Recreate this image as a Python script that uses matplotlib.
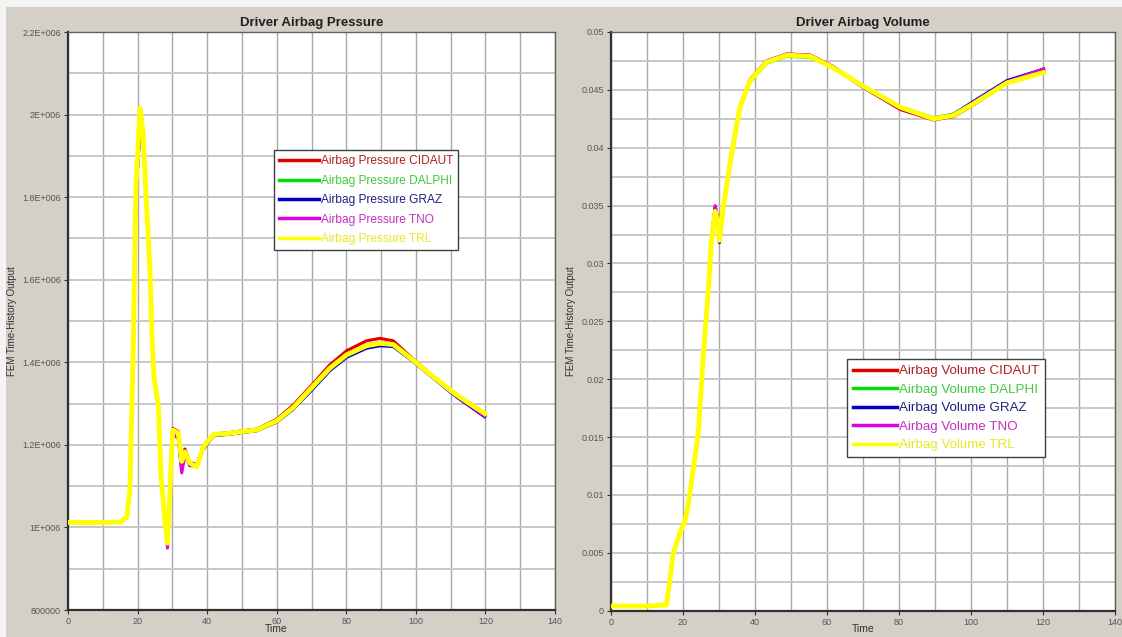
import matplotlib
matplotlib.use("Agg")
import matplotlib.pyplot as plt
from matplotlib.ticker import FixedLocator, MultipleLocator
from matplotlib.patches import Rectangle

plt.rcParams['font.family'] = ['Liberation Sans', 'DejaVu Sans']

# ---------------- data ----------------
labs = ["CIDAUT", "DALPHI", "GRAZ", "TNO", "TRL"]
line_colors = ["#e00000", "#00e000", "#0000c8", "#e000e0", "#ffff00"]
text_colors = ["#b02020", "#40c840", "#202080", "#c030c0", "#e8e820"]

# Driver airbag pressure (Pa) vs time (ms)
t_p = [0, 5, 10, 15, 16.9, 17.8, 18.8, 19.5, 20.7, 21.6, 22.6, 23.6, 24.2, 24.7,
       26.0, 26.7, 27.9, 28.6, 29.3, 30.1, 31.7, 32.7, 33.6, 35.0, 37.0, 38.9,
       41.8, 46.6, 50, 54.2, 60, 64.7, 70, 75.3, 80.1, 85.8, 89.7, 93.5, 99.2,
       105, 111.7, 119.8]
p_cidaut = [1.012e6, 1.012e6, 1.012e6, 1.013e6, 1.024e6, 1.085e6, 1.440e6, 1.800e6,
            1.970e6, 1.950e6, 1.780e6, 1.620e6, 1.460e6, 1.370e6, 1.295e6, 1.135e6,
            1.010e6, 0.958e6, 1.085e6, 1.240e6, 1.232e6, 1.145e6, 1.190e6, 1.158e6,
            1.152e6, 1.198e6, 1.226e6, 1.230e6, 1.234e6, 1.238e6, 1.262e6, 1.296e6,
            1.344e6, 1.394e6, 1.428e6, 1.452e6, 1.458e6, 1.452e6, 1.408e6, 1.366e6,
            1.320e6, 1.274e6]
p_dalphi = [1.012e6, 1.012e6, 1.012e6, 1.013e6, 1.024e6, 1.088e6, 1.445e6, 1.805e6,
            1.965e6, 1.948e6, 1.775e6, 1.615e6, 1.455e6, 1.365e6, 1.290e6, 1.130e6,
            1.012e6, 0.962e6, 1.090e6, 1.232e6, 1.226e6, 1.158e6, 1.180e6, 1.155e6,
            1.150e6, 1.192e6, 1.222e6, 1.226e6, 1.230e6, 1.234e6, 1.256e6, 1.288e6,
            1.334e6, 1.382e6, 1.414e6, 1.436e6, 1.442e6, 1.440e6, 1.404e6, 1.364e6,
            1.320e6, 1.272e6]
p_graz = [1.012e6, 1.012e6, 1.012e6, 1.013e6, 1.024e6, 1.088e6, 1.448e6, 1.808e6,
          1.968e6, 1.950e6, 1.776e6, 1.614e6, 1.452e6, 1.362e6, 1.288e6, 1.128e6,
          1.008e6, 0.958e6, 1.086e6, 1.230e6, 1.222e6, 1.140e6, 1.178e6, 1.150e6,
          1.148e6, 1.190e6, 1.222e6, 1.226e6, 1.230e6, 1.234e6, 1.255e6, 1.286e6,
          1.332e6, 1.380e6, 1.412e6, 1.434e6, 1.440e6, 1.438e6, 1.402e6, 1.362e6,
          1.316e6, 1.268e6]
p_tno = [1.012e6, 1.012e6, 1.012e6, 1.013e6, 1.024e6, 1.088e6, 1.446e6, 1.806e6,
         1.968e6, 1.952e6, 1.778e6, 1.618e6, 1.456e6, 1.360e6, 1.292e6, 1.132e6,
         1.010e6, 0.950e6, 1.084e6, 1.228e6, 1.215e6, 1.132e6, 1.176e6, 1.152e6,
         1.150e6, 1.192e6, 1.224e6, 1.228e6, 1.232e6, 1.236e6, 1.258e6, 1.290e6,
         1.338e6, 1.386e6, 1.418e6, 1.442e6, 1.448e6, 1.444e6, 1.406e6, 1.364e6,
         1.318e6, 1.270e6]
p_trl = [1.012e6, 1.012e6, 1.012e6, 1.013e6, 1.025e6, 1.090e6, 1.454e6, 1.817e6,
         2.015e6, 1.955e6, 1.777e6, 1.616e6, 1.454e6, 1.365e6, 1.292e6, 1.130e6,
         1.010e6, 0.962e6, 1.090e6, 1.236e6, 1.228e6, 1.160e6, 1.183e6, 1.156e6,
         1.146e6, 1.195e6, 1.225e6, 1.228e6, 1.232e6, 1.236e6, 1.258e6, 1.290e6,
         1.338e6, 1.386e6, 1.418e6, 1.440e6, 1.446e6, 1.443e6, 1.405e6, 1.365e6,
         1.321e6, 1.276e6]

# Driver airbag volume (m^3) vs time (ms)
t_v = [0, 5, 10, 15.5, 17.4, 19.2, 20.6, 21.6, 22.9, 24.3, 25.7, 27.1, 28.0, 29.0,
       29.6, 30.2, 31.3, 32.7, 34.1, 35.9, 38.7, 43.3, 48.9, 55.4, 61.8, 70.2,
       80.4, 89.6, 95.2, 100.7, 110, 120.2]
v_cidaut = [0.0004, 0.0004, 0.0004, 0.0005, 0.0050, 0.0067, 0.0077, 0.0093, 0.0122,
            0.0153, 0.0220, 0.0278, 0.0322, 0.0349, 0.0340, 0.0319, 0.0348, 0.0380,
            0.0406, 0.0436, 0.0459, 0.0475, 0.0481, 0.0480, 0.0470, 0.0452, 0.0433,
            0.0424, 0.0427, 0.0437, 0.0456, 0.0467]
v_dalphi = [0.0004, 0.0004, 0.0004, 0.0005, 0.0050, 0.0067, 0.0077, 0.0093, 0.0122,
            0.0153, 0.0219, 0.0276, 0.0320, 0.0345, 0.0338, 0.0320, 0.0349, 0.0377,
            0.0403, 0.0434, 0.0457, 0.0473, 0.0479, 0.0478, 0.0469, 0.0453, 0.0435,
            0.0426, 0.0429, 0.0439, 0.0457, 0.0467]
v_graz = [0.0004, 0.0004, 0.0004, 0.0005, 0.0050, 0.0067, 0.0077, 0.0093, 0.0122,
          0.0153, 0.0220, 0.0277, 0.0321, 0.0348, 0.0339, 0.0318, 0.0348, 0.0378,
          0.0404, 0.0435, 0.0458, 0.0474, 0.0480, 0.0479, 0.0469, 0.0452, 0.0434,
          0.0425, 0.0429, 0.0440, 0.0458, 0.0468]
v_tno = [0.0004, 0.0004, 0.0004, 0.0005, 0.0050, 0.0067, 0.0077, 0.0093, 0.0122,
         0.0153, 0.0220, 0.0278, 0.0322, 0.0350, 0.0341, 0.0319, 0.0348, 0.0379,
         0.0405, 0.0436, 0.0459, 0.0475, 0.0481, 0.0480, 0.0470, 0.0453, 0.0434,
         0.0425, 0.0428, 0.0439, 0.0457, 0.0468]
v_trl = [0.0004, 0.0004, 0.0004, 0.0005, 0.0050, 0.0067, 0.0077, 0.0093, 0.0122,
         0.0153, 0.0220, 0.0277, 0.0320, 0.0345, 0.0338, 0.0320, 0.0349, 0.0378,
         0.0404, 0.0435, 0.0458, 0.0474, 0.0480, 0.0479, 0.0469, 0.0453, 0.0435,
         0.0425, 0.0428, 0.0438, 0.0456, 0.0465]

p_series = [p_cidaut, p_dalphi, p_graz, p_tno, p_trl]
v_series = [v_cidaut, v_dalphi, v_graz, v_tno, v_trl]

p_ticks = [800000, 1000000, 1200000, 1400000, 1600000, 1800000, 2000000, 2200000]
p_ticklabels = ["800000", "1E+006", "1.2E+006", "1.4E+006", "1.6E+006",
                "1.8E+006", "2E+006", "2.2E+006"]
v_ticks = [0, 0.005, 0.01, 0.015, 0.02, 0.025, 0.03, 0.035, 0.04, 0.045, 0.05]
v_ticklabels = ["0", "0.005", "0.01", "0.015", "0.02", "0.025", "0.03", "0.035",
                "0.04", "0.045", "0.05"]
x_ticks = [0, 20, 40, 60, 80, 100, 120, 140]

# ---------------- figure ----------------
W, H = 1122, 637
fig = plt.figure(figsize=(W / 100, H / 100), dpi=100)
fig.patch.set_facecolor("#d4d0c8")
# light strip along the top and left edges of the window
fig.add_artist(Rectangle((0, 1 - 7 / H), 1, 7 / H, transform=fig.transFigure,
                         facecolor="#f4f4f2", edgecolor="none", zorder=0))
fig.add_artist(Rectangle((0, 0), 6 / W, 1, transform=fig.transFigure,
                         facecolor="#f4f4f2", edgecolor="none", zorder=0))

axL = fig.add_axes([68 / W, 27 / H, 487 / W, 578 / H])
axR = fig.add_axes([610.7 / W, 26.3 / H, 504.3 / W, 578.7 / H])


def style_axes(ax, title, yticks, yticklabels, ylim, yminor):
    ax.set_facecolor("white")
    ax.set_xlim(0, 140)
    ax.set_ylim(*ylim)
    ax.xaxis.set_major_locator(FixedLocator(x_ticks))
    ax.xaxis.set_minor_locator(MultipleLocator(10))
    ax.yaxis.set_major_locator(FixedLocator(yticks))
    ax.yaxis.set_minor_locator(MultipleLocator(yminor))
    ax.set_yticklabels(yticklabels)
    ax.set_xticklabels([str(v) for v in x_ticks])
    ax.grid(True, which="both", axis="x", color="#a8a8a8", lw=1.0)
    ax.grid(True, which="both", axis="y", color="#c4c4c4", lw=1.3)
    ax.set_axisbelow(True)
    ax.tick_params(which="major", length=3, width=0.8, color="#303030",
                   labelsize=6.5, labelcolor="#555555", pad=2)
    ax.tick_params(which="minor", length=0)
    for side in ["left", "bottom"]:
        ax.spines[side].set_color("#303030")
        ax.spines[side].set_linewidth(1.6)
    for side in ["top", "right"]:
        ax.spines[side].set_color("#606060")
        ax.spines[side].set_linewidth(1.0)
    ax.set_title(title, fontsize=9.5, fontweight="bold", color="#202020", pad=4)
    ax.set_ylabel("FEM Time-History Output", fontsize=7, color="#303030", labelpad=4)


style_axes(axL, "Driver Airbag Pressure", p_ticks, p_ticklabels,
           (800000, 2200000), 100000)
style_axes(axR, "Driver Airbag Volume", v_ticks, v_ticklabels, (0, 0.05), 0.0025)

fig.text(276 / W, 1 - 629 / H, "Time", fontsize=7.5, color="#303030",
         ha="center", va="center")
fig.text(863 / W, 1 - 629 / H, "Time", fontsize=7.5, color="#303030",
         ha="center", va="center")

for i, (lab, c) in enumerate(zip(labs, line_colors)):
    lw = 3.5 if lab == "TRL" else 2.2
    axL.plot(t_p, p_series[i], color=c, lw=lw, label="Airbag Pressure " + lab,
             solid_joinstyle="round", zorder=3 + i)
    axR.plot(t_v, v_series[i], color=c, lw=lw, label="Airbag Volume " + lab,
             solid_joinstyle="round", zorder=3 + i)


def add_legend(ax, x, y, fs, spacing):
    handles, names = ax.get_legend_handles_labels()
    leg = ax.legend(handles, names, loc="upper left",
                    bbox_to_anchor=(x / W, 1 - y / H),
                    bbox_transform=fig.transFigure, borderaxespad=0,
                    fontsize=fs, frameon=True, fancybox=False, framealpha=1,
                    edgecolor="#404040", handlelength=3.3, handletextpad=0.15,
                    labelspacing=spacing, borderpad=0.45)
    leg.get_frame().set_linewidth(1.0)
    for txt, tc in zip(leg.get_texts(), text_colors):
        txt.set_color(tc)
    for ln in leg.get_lines():
        ln.set_linewidth(2.5)
    leg.set_zorder(20)


add_legend(axL, 274, 150, 8.6, 0.62)
add_legend(axR, 847, 359, 9.6, 0.46)

fig.savefig("out.png", dpi=100, facecolor=fig.get_facecolor())
